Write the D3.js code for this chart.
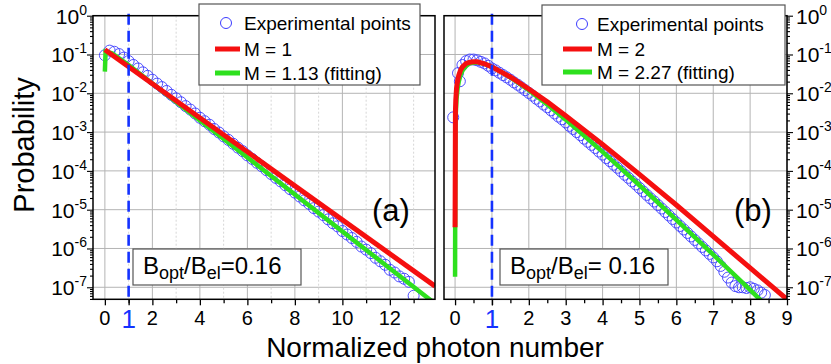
<!DOCTYPE html>
<html>
<head>
<meta charset="utf-8">
<script src="https://cdn.jsdelivr.net/npm/d3@7"></script>
<style>
  body { margin: 0; background: #fff; }
  svg, text, tspan { font-family: "Liberation Sans", Arial, Helvetica, sans-serif; }
</style>
</head>
<body>
<svg id="chart" width="831" height="364" font-family="Liberation Sans, Arial, sans-serif"></svg>
<script>
// ---- data (probabilities stored as log10 values) ----
const decadeExponents = [0, -1, -2, -3, -4, -5, -6, -7];
const xTicksA = [0, 2, 4, 6, 8, 10, 12];
const xMinorA = [1, 3, 5, 7, 9, 11, 13];
const xTicksB = [0, 1, 2, 3, 4, 5, 6, 7, 8, 9];
const xMinorB = [0.5, 1.5, 2.5, 3.5, 4.5, 5.5, 6.5, 7.5, 8.5];
const markerX = 1;

const legendA = ["Experimental points", "M = 1", "M = 1.13 (fitting)"];
const legendB = ["Experimental points", "M = 2", "M = 2.27 (fitting)"];

// panel (a) experimental points [x, log10 p]
const expA = [[0,-1.02],[0.2,-0.90],[0.4,-0.93],[0.6,-0.99],[0.8,-1.08],[1.0,-1.17],[1.2,-1.27],[1.4,-1.36],
  [1.6,-1.46],[1.8,-1.55],[2.0,-1.65],[2.2,-1.75],[2.4,-1.84],[2.6,-1.94],[2.8,-2.04],[3.0,-2.13],[3.2,-2.23],
  [3.4,-2.33],[3.6,-2.42],[3.8,-2.52],[4.0,-2.63],[4.2,-2.72],[4.4,-2.81],[4.6,-2.92],[4.8,-3.01],[5.0,-3.11],
  [5.2,-3.20],[5.4,-3.30],[5.6,-3.40],[5.8,-3.49],[6.0,-3.60],[6.2,-3.69],[6.4,-3.79],[6.6,-3.88],[6.8,-3.98],
  [7.0,-4.08],[7.2,-4.18],[7.4,-4.27],[7.6,-4.37],[7.8,-4.47],[8.0,-4.56],[8.2,-4.66],[8.4,-4.76],[8.6,-4.85],
  [8.8,-4.96],[9.0,-5.05],[9.2,-5.14],[9.4,-5.25],[9.6,-5.35],[9.8,-5.43],[10.0,-5.55],[10.2,-5.64],[10.4,-5.73],
  [10.6,-5.83],[10.8,-5.95],[11.0,-6.03],[11.2,-6.12],[11.4,-6.24],[11.6,-6.33],[11.8,-6.42],[12.0,-6.55],
  [12.2,-6.62],[12.4,-6.72],[12.6,-6.78],[12.8,-6.86],[13.0,-7.22]];
const redA = [[0,-0.88],[13.9,-6.97]];
const greenA = [[0,-1.44],[0.03,-0.92],[0.3,-0.97],[1,-1.27],[13.9,-7.42]];

// panel (b)
const expB = [[-0.05,-2.62],[0.08,-1.48],[0.13,-1.69],[0.2,-1.27],[0.3,-1.17],[0.4,-1.13],[0.5,-1.13],
  [0.6,-1.15],[0.7,-1.19],[0.8,-1.23],[0.9,-1.29],[1.0,-1.36],[1.1,-1.41],[1.2,-1.47],[1.3,-1.53],[1.4,-1.59],
  [1.5,-1.65],[1.6,-1.72],[1.7,-1.78],[1.8,-1.85],[1.9,-1.92],[2.0,-1.99],[2.1,-2.06],[2.2,-2.14],[2.3,-2.21],
  [2.4,-2.29],[2.5,-2.36],[2.6,-2.44],[2.7,-2.52],[2.8,-2.60],[2.9,-2.67],[3.0,-2.75],[3.1,-2.84],[3.2,-2.92],
  [3.3,-3.00],[3.4,-3.08],[3.5,-3.17],[3.6,-3.25],[3.7,-3.33],[3.8,-3.41],[3.9,-3.50],[4.0,-3.58],[4.1,-3.67],
  [4.2,-3.75],[4.3,-3.84],[4.4,-3.92],[4.5,-4.01],[4.6,-4.10],[4.7,-4.18],[4.8,-4.27],[4.9,-4.35],[5.0,-4.44],
  [5.1,-4.53],[5.2,-4.62],[5.3,-4.71],[5.4,-4.79],[5.5,-4.88],[5.6,-4.97],[5.7,-5.06],[5.8,-5.15],[5.9,-5.24],
  [6.0,-5.33],[6.1,-5.42],[6.2,-5.51],[6.3,-5.60],[6.4,-5.69],[6.5,-5.78],[6.6,-5.87],[6.7,-5.96],[6.8,-6.05],
  [6.9,-6.14],[7.0,-6.23],[7.1,-6.33],[7.2,-6.45],[7.3,-6.60],[7.4,-6.75],[7.5,-6.88],[7.6,-6.97],[7.7,-7.00],
  [7.8,-7.00],[7.9,-7.02],[8.0,-7.00],[8.1,-7.04],[8.2,-7.08],[8.3,-7.14],[8.4,-7.20]];
const redB = [[0,-5.45],[0.01,-2.46],[0.02,-2.16],[0.04,-1.87],[0.07,-1.67],[0.1,-1.54],[0.15,-1.40],
  [0.2,-1.32],[0.3,-1.23],[0.4,-1.20],[0.5,-1.19],[0.6,-1.19],[0.8,-1.24],[1,-1.32],[1.5,-1.58],[2,-1.89],
  [2.5,-2.22],[3,-2.58],[4,-3.32],[5,-4.09],[6,-4.88],[7,-5.69],[8,-6.50],[9,-7.31]];
const greenB = [[0,-6.73],[0.01,-2.88],[0.02,-2.51],[0.04,-2.14],[0.07,-1.87],[0.1,-1.70],[0.15,-1.52],
  [0.2,-1.42],[0.3,-1.29],[0.4,-1.23],[0.5,-1.21],[0.6,-1.20],[0.8,-1.24],[1,-1.32],[1.5,-1.59],[2,-1.92],
  [2.5,-2.29],[3,-2.68],[4,-3.51],[5,-4.37],[6,-5.26],[7,-6.16],[8,-7.07],[8.4,-7.44]];

// ---- layout ----
const plotTop = 15.7;
const plotBottom = 299.3;
const gridColor = "#b4b4b4";
const red = "#f50f0f";
const green = "#2ee01e";
const blue = "#1432ff";

const panels = [
  { id: "a", left: 93, right: 435, xDomain: [-0.5, 13.9], ticks: xTicksA, minor: xMinorA,
    dottedGrid: true, axisSide: "left", exp: expA, redLine: redA, greenLine: greenA,
    legend: { x: 199, y: 4, w: 221, h: 81, mark: 27, lx0: 16, lx1: 41, tx: 45, rows: [19, 45, 69], labels: legendA },
    ratio: { x: 133, y: 249, w: 168, h: 36, tx: 143, eq: "=0.16" },
    tag: { text: "(a)", x: 372, y: 221 } },
  { id: "b", left: 444, right: 787, xDomain: [-0.3, 9], ticks: xTicksB, minor: xMinorB,
    dottedGrid: false, axisSide: "right", exp: expB, redLine: redB, greenLine: greenB,
    legend: { x: 542, y: 5, w: 243, h: 80, mark: 40, lx0: 21, lx1: 50, tx: 55, rows: [19, 44, 67], labels: legendB },
    ratio: { x: 500, y: 249, w: 168, h: 36, tx: 510, eq: "= 0.16" },
    tag: { text: "(b)", x: 734, y: 221 } }
];

const svg = d3.select("#chart");
const defs = svg.append("defs");

const y = d3.scaleLog()
  .domain([Math.pow(10, -7.31), 1])
  .range([plotBottom, plotTop]);

const decades = decadeExponents.map((e) => Math.pow(10, e));
const minorY = y.ticks().filter((v) => !decades.some((d) => Math.abs(v / d - 1) < 1e-6));

panels.forEach((p) => {
  const x = d3.scaleLinear().domain(p.xDomain).range([p.left, p.right]);
  const g = svg.append("g").attr("class", "panel-" + p.id);

  defs.append("clipPath").attr("id", "clip-" + p.id)
    .append("rect")
    .attr("x", p.left).attr("y", plotTop)
    .attr("width", p.right - p.left).attr("height", plotBottom - plotTop);

  // grid
  const grid = g.append("g").attr("class", "grid");
  grid.selectAll("line.h").data(decades).join("line")
    .attr("class", "h")
    .attr("x1", p.left).attr("x2", p.right)
    .attr("y1", (d) => y(d)).attr("y2", (d) => y(d))
    .attr("stroke", gridColor).attr("stroke-width", 1);
  grid.selectAll("line.v").data(p.ticks).join("line")
    .attr("class", "v")
    .attr("x1", (d) => x(d)).attr("x2", (d) => x(d))
    .attr("y1", plotTop).attr("y2", plotBottom)
    .attr("stroke", gridColor).attr("stroke-width", 1);
  if (p.dottedGrid) {
    grid.selectAll("line.vm").data(p.minor.filter((d) => x(d) < p.right)).join("line")
      .attr("class", "vm")
      .attr("x1", (d) => x(d)).attr("x2", (d) => x(d))
      .attr("y1", plotTop).attr("y2", plotBottom)
      .attr("stroke", "#d6d6d6").attr("stroke-width", 1)
      .attr("stroke-dasharray", "2,2");
  }

  const plot = g.append("g").attr("clip-path", "url(#clip-" + p.id + ")");

  // experimental points
  plot.append("g").selectAll("circle").data(p.exp).join("circle")
    .attr("cx", (d) => x(d[0]))
    .attr("cy", (d) => y(Math.pow(10, d[1])))
    .attr("r", 5.5)
    .attr("fill", "none")
    .attr("stroke", "#3c3cff")
    .attr("stroke-width", 0.9);

  const line = d3.line()
    .x((d) => x(d[0]))
    .y((d) => y(Math.pow(10, d[1])));

  plot.append("path").datum(p.greenLine)
    .attr("d", line).attr("fill", "none")
    .attr("stroke", green).attr("stroke-width", 4.5);
  plot.append("path").datum(p.redLine)
    .attr("d", line).attr("fill", "none")
    .attr("stroke", red).attr("stroke-width", 5);

  // dashed marker at x = 1
  g.append("line")
    .attr("x1", x(markerX)).attr("x2", x(markerX))
    .attr("y1", plotTop - 2).attr("y2", plotBottom)
    .attr("stroke", blue).attr("stroke-width", 2.6)
    .attr("stroke-dasharray", "11,6");

  // frame
  g.append("rect")
    .attr("x", p.left).attr("y", plotTop)
    .attr("width", p.right - p.left).attr("height", plotBottom - plotTop)
    .attr("fill", "none").attr("stroke", "#000").attr("stroke-width", 1.5);

  // x axis ticks
  const xAxis = g.append("g").attr("transform", `translate(0,${plotBottom})`);
  xAxis.call(d3.axisBottom(x).tickValues(p.ticks.concat(markerX)).tickSize(6).tickFormat(""));
  xAxis.append("g").call(d3.axisBottom(x).tickValues(p.minor.filter((d) => x(d) <= p.right)).tickSize(4).tickFormat(""));
  xAxis.selectAll(".domain").remove();
  xAxis.selectAll("line").attr("stroke", "#000").attr("stroke-width", 1.3);

  g.append("g").selectAll("text").data(p.ticks.filter((d) => d !== markerX)).join("text")
    .attr("x", (d) => x(d)).attr("y", 325)
    .attr("text-anchor", "middle")
    .attr("font-size", 20)
    .text((d) => d);
  g.append("text")
    .attr("x", x(markerX)).attr("y", 328)
    .attr("text-anchor", "middle")
    .attr("font-size", 26)
    .attr("fill", blue)
    .text(markerX);

  // y axis (left on panel a, right on panel b)
  const onLeft = p.axisSide === "left";
  const axisX = onLeft ? p.left : p.right;
  const yAxisG = g.append("g").attr("transform", `translate(${axisX},0)`);
  const mk = onLeft ? d3.axisLeft : d3.axisRight;
  yAxisG.call(mk(y).tickValues(decades).tickSize(6).tickFormat(""));
  yAxisG.append("g").call(mk(y).tickValues(minorY).tickSize(3).tickFormat(""));
  yAxisG.selectAll(".domain").remove();
  yAxisG.selectAll("line").attr("stroke", "#000").attr("stroke-width", 1.1);

  const yLabels = g.append("g").selectAll("text").data(decadeExponents).join("text")
    .attr("x", onLeft ? p.left - 6 : p.right + 9)
    .attr("y", (e) => y(Math.pow(10, e)) + 8)
    .attr("text-anchor", onLeft ? "end" : "start")
    .attr("font-size", 21);
  yLabels.append("tspan").text("10");
  yLabels.append("tspan").attr("dy", -9).attr("font-size", 14).text((e) => e);

  // legend
  const L = p.legend;
  const lg = g.append("g");
  lg.append("rect")
    .attr("x", L.x).attr("y", L.y).attr("width", L.w).attr("height", L.h)
    .attr("fill", "#fff").attr("stroke", "#555").attr("stroke-width", 1.2);
  lg.append("circle")
    .attr("cx", L.x + L.mark).attr("cy", L.y + L.rows[0])
    .attr("r", 5.5).attr("fill", "none").attr("stroke", "#3c3cff").attr("stroke-width", 1);
  [red, green].forEach((c, i) => {
    lg.append("line")
      .attr("x1", L.x + L.lx0).attr("x2", L.x + L.lx1)
      .attr("y1", L.y + L.rows[i + 1]).attr("y2", L.y + L.rows[i + 1])
      .attr("stroke", c).attr("stroke-width", 5);
  });
  lg.selectAll("text.entry").data(L.labels).join("text")
    .attr("class", "entry")
    .attr("x", L.x + L.tx)
    .attr("y", (d, i) => L.y + L.rows[i] + 7)
    .attr("font-size", 19)
    .text((d) => d);

  // bandwidth ratio box
  const R = p.ratio;
  g.append("rect")
    .attr("x", R.x).attr("y", R.y).attr("width", R.w).attr("height", R.h)
    .attr("fill", "#fff").attr("stroke", "#555").attr("stroke-width", 1.2);
  const rt = g.append("text").attr("x", R.tx).attr("y", 274).attr("font-size", 24);
  rt.append("tspan").text("B");
  rt.append("tspan").attr("font-size", 18).attr("dy", 5).text("opt");
  rt.append("tspan").attr("dy", -5).text("/B");
  rt.append("tspan").attr("font-size", 18).attr("dy", 5).text("el");
  rt.append("tspan").attr("dy", -5).text(R.eq);

  g.append("text")
    .attr("x", p.tag.x).attr("y", p.tag.y)
    .attr("font-size", 31)
    .text(p.tag.text);
});

// axis titles
svg.append("text")
  .attr("transform", "translate(34,145) rotate(-90)")
  .attr("text-anchor", "middle")
  .attr("font-size", 29)
  .text("Probability");
svg.append("text")
  .attr("x", 435).attr("y", 357)
  .attr("text-anchor", "middle")
  .attr("font-size", 28)
  .text("Normalized photon number");
</script>
</body>
</html>
